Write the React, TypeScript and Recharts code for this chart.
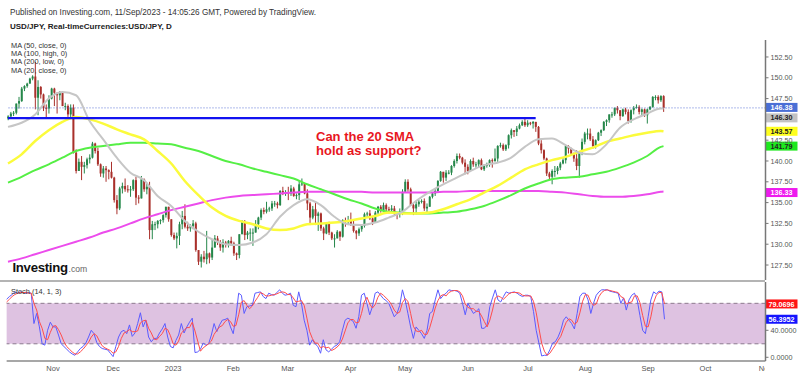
import React from 'react';
import { ComposedChart, Bar, Line, XAxis, YAxis, ReferenceLine, ReferenceArea } from 'recharts';

const FONT = '"Liberation Sans", Arial, Helvetica, sans-serif';

// ---------- Daily USD/JPY candles, 7 Oct 2022 (bar 0) .. 11 Sep 2023 (bar 241) ----------
const firstOpen = 145.1;
const closes = [
  145.35, 145.7, 145.8, 146.9, 147.2, 148.7, 149.0, 149.3, 149.9, 150.15,
  147.6, 148.9, 148.0, 146.4, 146.3, 147.5, 148.7, 148.2, 147.9, 148.3,
  146.6, 146.6, 145.6, 146.4, 141.0, 138.8, 139.9, 139.3, 139.5, 140.2,
  140.4, 142.1, 141.2, 139.6, 138.5, 139.1, 138.9, 138.7, 138.0, 135.3,
  134.3, 136.7, 137.0, 136.6, 136.5, 136.6, 137.7, 135.6, 135.5, 137.8,
  136.6, 136.9, 131.7, 132.4, 132.4, 132.8, 132.9, 133.5, 134.5, 133.0,
  131.1, 130.7, 131.0, 132.4, 133.4, 132.1, 131.9, 132.2, 132.5, 129.3,
  127.9, 128.5, 128.2, 128.9, 128.4, 129.6, 130.7, 130.2, 129.6, 130.2,
  129.9, 130.4, 130.1, 128.9, 128.7, 131.2, 132.6, 131.1, 131.4, 131.4,
  131.4, 132.4, 133.2, 134.1, 133.9, 134.2, 134.3, 134.9, 134.9, 134.7,
  136.4, 136.2, 136.2, 136.1, 136.7, 135.8, 135.9, 137.2, 137.3, 136.1,
  134.9, 133.2, 134.2, 133.4, 133.7, 131.9, 131.3, 132.5, 131.4, 130.7,
  130.7, 131.5, 130.9, 132.9, 132.7, 132.8, 132.4, 131.6, 131.3, 131.8,
  132.2, 133.6, 133.7, 133.1, 132.6, 133.8, 134.5, 134.1, 134.7, 134.2,
  134.1, 134.3, 133.7, 133.6, 133.9, 136.3, 137.5, 136.6, 134.7, 134.3,
  134.8, 135.1, 135.2, 134.3, 134.5, 135.7, 136.1, 136.4, 137.6, 138.7,
  138.0, 138.6, 138.6, 139.4, 140.0, 140.6, 140.4, 139.8, 139.3, 138.8,
  140.0, 139.6, 139.6, 140.1, 139.0, 139.4, 139.6, 140.1, 140.0, 140.3,
  141.8, 141.9, 141.4, 141.9, 143.1, 143.7, 143.5, 143.9, 144.3, 144.7,
  144.3, 144.6, 144.5, 144.7, 144.1, 142.1, 141.3, 140.3, 138.5, 138.1,
  138.8, 138.8, 139.2, 139.7, 140.1, 141.8, 141.5, 140.9, 140.3, 139.4,
  141.2, 142.3, 143.3, 143.3, 142.6, 141.8, 142.5, 143.4, 143.7, 144.7,
  144.9, 145.6, 145.6, 146.4, 146.1, 145.4, 146.2, 145.9, 144.8, 146.1,
  146.4, 146.5, 145.9, 146.2, 145.5, 146.2, 146.5, 147.7, 147.7, 147.3,
  147.8, 146.38,
];
const highs = [
  145.5, 145.9, 146.0, 146.9, 147.7, 148.9, 149.1, 149.4, 150.0, 150.3,
  151.9, 149.7, 149.0, 148.1, 146.8, 147.9, 148.8, 148.8, 148.0, 148.4,
  148.4, 147.0, 146.8, 146.8, 146.8, 141.4, 140.3, 140.6, 139.9, 140.4,
  140.8, 142.3, 142.2, 141.6, 139.7, 139.4, 139.4, 139.0, 139.9, 138.1,
  135.9, 136.9, 137.4, 137.9, 137.1, 137.0, 137.8, 138.1, 135.9, 138.2,
  137.9, 137.4, 137.5, 132.8, 132.7, 132.9, 133.0, 133.6, 134.5, 134.4,
  133.0, 131.4, 131.4, 132.7, 134.0, 134.8, 132.7, 132.4, 132.9, 132.7,
  129.2, 128.8, 129.2, 131.6, 129.0, 130.6, 131.1, 131.0, 130.5, 130.6,
  130.4, 130.5, 130.9, 130.3, 129.0, 131.2, 132.9, 132.9, 131.6, 131.9,
  131.9, 132.9, 133.3, 134.3, 134.4, 135.1, 134.5, 135.2, 135.2, 135.1,
  136.5, 136.9, 136.5, 136.9, 137.1, 136.9, 136.1, 137.6, 137.9, 137.3,
  136.6, 135.1, 134.6, 135.1, 133.9, 133.8, 132.1, 132.6, 132.7, 131.5,
  131.2, 131.7, 131.6, 133.0, 133.2, 133.4, 133.8, 132.8, 131.7, 132.0,
  132.4, 133.8, 133.9, 134.1, 133.4, 134.0, 134.6, 134.7, 135.0, 134.9,
  134.5, 134.7, 134.6, 133.8, 134.3, 136.6, 137.8, 137.8, 136.8, 134.9,
  135.2, 135.3, 135.4, 135.5, 134.9, 135.8, 136.2, 136.7, 137.7, 138.8,
  138.7, 138.9, 138.9, 139.5, 140.2, 140.9, 140.9, 140.5, 140.2, 139.6,
  140.2, 140.4, 139.9, 140.2, 140.3, 139.6, 139.8, 140.2, 140.3, 141.5,
  141.9, 142.2, 142.1, 142.0, 143.2, 143.9, 143.6, 144.2, 144.5, 144.9,
  145.1, 144.9, 144.7, 144.8, 144.7, 144.2, 142.5, 141.4, 140.4, 138.7,
  139.0, 139.4, 139.4, 139.9, 140.4, 141.9, 141.9, 141.6, 141.0, 141.3,
  141.2, 142.7, 143.5, 143.9, 143.9, 143.0, 142.6, 143.5, 143.8, 144.8,
  145.0, 145.6, 145.9, 146.4, 146.6, 146.0, 146.3, 146.4, 146.2, 146.2,
  146.6, 146.8, 146.7, 146.3, 146.3, 146.3, 146.6, 147.8, 147.9, 147.9,
  147.9, 147.9,
];
const lows = [
  144.9, 145.3, 145.4, 145.6, 146.3, 147.1, 148.4, 148.8, 149.3, 149.7,
  146.2, 145.5, 147.5, 146.0, 145.1, 145.7, 147.4, 146.6, 145.7, 147.3,
  146.6, 146.1, 145.3, 145.2, 140.9, 138.5, 138.8, 137.7, 138.5, 139.1,
  139.7, 140.3, 140.9, 139.4, 138.1, 138.0, 137.5, 137.8, 137.9, 135.0,
  133.6, 134.1, 136.1, 136.3, 136.2, 135.7, 136.4, 134.7, 134.9, 135.5,
  136.3, 136.0, 130.6, 130.6, 131.7, 131.9, 132.4, 132.6, 133.2, 132.7,
  130.9, 130.5, 129.5, 129.9, 131.8, 131.9, 131.6, 131.5, 131.8, 129.1,
  127.5, 127.2, 127.8, 127.6, 127.7, 128.1, 129.7, 129.9, 129.2, 129.0,
  129.6, 129.6, 129.8, 128.6, 128.1, 128.3, 131.2, 130.5, 130.6, 130.4,
  129.8, 131.5, 131.8, 132.9, 133.6, 133.7, 133.9, 134.0, 134.5, 134.3,
  134.6, 135.9, 135.8, 135.3, 135.8, 135.7, 135.4, 135.3, 137.0, 136.0,
  134.1, 132.3, 133.0, 132.3, 131.6, 131.6, 130.5, 131.2, 131.1, 130.5,
  129.6, 130.9, 130.4, 130.8, 132.1, 132.3, 132.2, 131.4, 130.6, 131.0,
  131.5, 132.0, 133.2, 132.9, 132.3, 132.6, 133.6, 133.8, 133.9, 133.9,
  133.7, 133.8, 133.5, 133.0, 133.2, 133.5, 136.2, 136.3, 134.6, 133.5,
  133.6, 134.5, 134.9, 134.0, 133.8, 134.5, 135.5, 135.8, 136.3, 137.5,
  137.4, 137.6, 138.4, 138.3, 139.2, 139.7, 140.2, 139.6, 138.4, 138.4,
  138.8, 139.3, 139.2, 139.2, 138.9, 138.8, 139.2, 139.3, 139.2, 139.9,
  139.9, 141.6, 141.2, 141.2, 141.5, 142.7, 142.9, 143.0, 143.8, 144.2,
  144.1, 144.1, 144.3, 143.9, 143.5, 141.9, 140.9, 140.1, 138.2, 137.7,
  137.2, 138.1, 138.4, 138.9, 139.6, 139.7, 140.9, 140.7, 139.9, 138.9,
  138.0, 140.7, 142.0, 142.6, 142.4, 141.5, 141.5, 142.4, 143.0, 143.6,
  144.2, 144.6, 145.2, 145.4, 145.7, 144.9, 145.3, 145.6, 144.5, 144.6,
  145.6, 146.3, 145.6, 145.5, 145.3, 144.5, 146.1, 146.4, 147.3, 146.9,
  147.1, 145.9,
];

// ---------- Moving averages, read every 5th bar ----------
const maBars = [
  0, 5, 10, 15, 20, 25, 30, 35, 40, 45,
  50, 55, 60, 65, 70, 75, 80, 85, 90, 95,
  100, 105, 110, 115, 120, 125, 130, 135, 140, 145,
  150, 155, 160, 165, 170, 175, 180, 185, 190, 195,
  200, 205, 210, 215, 220, 225, 230, 235, 240, 241,
];
const ma20 = [
  144.1, 144.6, 145.6, 147.5, 148.3, 147.9, 144.8, 142.6, 140.4, 138.6,
  137.7, 135.8, 134.6, 132.8, 131.5, 130.6, 130.0, 129.9, 130.2, 131.2,
  133.3, 134.7, 135.4, 134.7, 133.3, 132.4, 132.3, 132.6, 133.2, 133.9,
  135.2, 136.3, 137.2, 138.0, 138.8, 139.5, 139.8, 140.4, 141.7, 142.6,
  142.7, 141.9, 141.0, 140.8, 142.0, 144.0, 145.0, 145.7, 146.3, 146.3,
];
const ma50 = [
  139.7, 140.8, 142.4, 143.7, 144.7, 145.3, 145.0, 144.5, 143.8, 143.2,
  142.6, 141.2, 139.7, 137.6, 135.9, 134.4, 133.4, 132.8, 132.4, 131.9,
  131.7, 131.9, 132.4, 132.5, 132.6, 132.8, 133.1, 133.4, 133.8, 133.7,
  133.7, 133.8, 134.2, 134.8, 135.4, 136.2, 137.0, 138.0, 139.0, 139.6,
  140.1, 140.5, 141.1, 141.6, 142.3, 142.7, 143.1, 143.4, 143.6, 143.57,
];
const ma100 = [
  137.4, 138.1, 138.9, 139.6, 140.4, 141.2, 141.6, 141.8, 142.0, 142.2,
  142.2, 142.1, 142.0, 141.6, 141.2, 140.6, 140.0, 139.6, 139.1, 138.7,
  138.3, 137.9, 137.2, 136.6, 136.0, 135.4, 134.9, 134.3, 133.9, 133.8,
  133.7, 133.7, 133.8, 133.9, 134.2, 134.6, 135.2, 135.9, 136.7, 137.3,
  137.8, 138.0, 138.1, 138.4, 138.7, 139.2, 139.8, 140.6, 141.7, 141.79,
];
const ma200 = [
  127.9, 128.3, 128.8, 129.3, 129.8, 130.3, 130.8, 131.4, 131.9, 132.5,
  133.1, 133.6, 134.1, 134.5, 134.9, 135.3, 135.6, 135.8, 135.9, 136.0,
  136.1, 136.2, 136.3, 136.3, 136.3, 136.3, 136.3, 136.2, 136.2, 136.2,
  136.2, 136.2, 136.3, 136.3, 136.4, 136.4, 136.4, 136.4, 136.4, 136.4,
  136.3, 136.2, 136.0, 135.8, 135.7, 135.7, 135.8, 136.0, 136.3, 136.33,
];

// ---------- Stochastic (14,1,3) ----------
const stochK = [
  86, 90, 93, 97, 95, 97, 96, 95, 96, 95,
  50, 65, 45, 20, 18, 40, 52, 45, 45, 33,
  20, 16, 12, 8, 5, 3, 8, 13, 16, 21,
  30, 40, 35, 22, 16, 13, 12, 11, 6, 1,
  16, 30, 38, 40, 35, 48, 31, 36, 50, 66,
  45, 55, 30, 23, 28, 28, 36, 42, 50, 30,
  16, 14, 25, 33, 50, 36, 45, 52, 58, 7,
  8, 12, 21, 18, 20, 33, 50, 38, 48, 55,
  56, 58, 45, 35, 60, 95, 92, 65, 75, 76,
  77, 95, 96, 97, 90, 87, 95, 93, 92, 96,
  100, 95, 92, 93, 95, 77, 75, 97, 80, 55,
  40, 18, 26, 20, 16, 6, 26, 11, 8, 12,
  16, 18, 23, 40, 55, 58, 56, 53, 43, 60,
  92, 95, 80, 63, 75, 95, 97, 92, 87, 84,
  80, 70, 60, 65, 77, 100, 85, 65, 45, 28,
  45, 40, 35, 28, 40, 65, 68, 85, 100, 87,
  92, 95, 100, 99, 99, 98, 95, 80, 63, 80,
  72, 65, 68, 72, 43, 43, 48, 75, 88, 100,
  85, 82, 90, 97, 95, 96, 97, 95, 92, 90,
  92, 92, 90, 68, 40, 21, 2, 3, 3, 11,
  21, 23, 30, 40, 55, 60, 55, 50, 42, 65,
  90, 95, 95, 85, 65, 80, 92, 97, 100, 100,
  100, 98, 97, 96, 95, 80, 88, 70, 85, 92,
  95, 85, 62, 40, 35, 60, 85, 97, 94, 98,
  97, 56.3952,
];
const stochD = [
  82, 86, 90, 93, 95, 96, 96, 96, 95, 95,
  80, 70, 53, 43, 28, 26, 37, 46, 47, 41,
  33, 23, 16, 12, 8, 5, 5, 8, 12, 17,
  22, 30, 35, 32, 24, 17, 14, 12, 10, 6,
  8, 16, 28, 36, 38, 41, 38, 38, 39, 51,
  54, 55, 43, 36, 27, 26, 31, 35, 43, 41,
  32, 20, 18, 24, 36, 40, 44, 44, 52, 39,
  24, 9, 14, 17, 20, 24, 34, 40, 45, 47,
  53, 56, 53, 46, 47, 63, 82, 84, 77, 72,
  76, 83, 89, 96, 94, 91, 91, 92, 93, 94,
  96, 97, 96, 93, 93, 88, 82, 83, 84, 77,
  58, 38, 28, 21, 21, 14, 16, 14, 15, 10,
  12, 15, 19, 27, 39, 51, 56, 56, 51, 52,
  65, 82, 89, 79, 73, 78, 89, 95, 92, 88,
  84, 78, 70, 65, 67, 81, 87, 83, 65, 46,
  39, 38, 40, 34, 34, 44, 58, 73, 84, 91,
  93, 91, 96, 98, 99, 99, 97, 91, 79, 74,
  72, 72, 68, 68, 61, 53, 45, 55, 70, 88,
  91, 89, 86, 90, 94, 96, 96, 96, 95, 92,
  91, 91, 91, 83, 66, 43, 21, 9, 3, 6,
  12, 18, 25, 31, 42, 52, 57, 55, 49, 52,
  66, 83, 93, 92, 82, 77, 79, 90, 96, 99,
  100, 99, 98, 97, 96, 90, 88, 79, 81, 82,
  91, 91, 81, 62, 46, 45, 60, 81, 92, 96,
  96, 79.0696,
];

// ---------- axes ----------
const totalSlots = 279; // bars plus empty future space up to Nov 2023
const monthTicks = [17, 39, 61, 83, 103, 126, 146, 169, 191, 212, 235, 256, 278];
const monthLabels = ['Nov', 'Dec', '2023', 'Feb', 'Mar', 'Apr', 'May', 'Jun', 'Jul', 'Aug', 'Sep', 'Oct', 'Nov'];
// 145.00 and 80.0000 sit fully under the value tags in the reference
const priceTicks = [127.5, 130, 132.5, 135, 137.5, 140, 142.5, 147.5, 150, 152.5];
const priceDomain = [125.7, 154.54];
const stochTicks = [0, 40];
const stochDomain = [-5.5, 111.6];
const resistanceLevel = 145.15;
const resistanceEndBar = 194;
const lastPrice = 146.38;

const rows = Array.from({ length: totalSlots }, (_, i) => {
  const r: any = { i };
  if (i < closes.length) {
    r.o = i === 0 ? firstOpen : closes[i - 1];
    r.h = highs[i];
    r.l = lows[i];
    r.c = closes[i];
    r.k = stochK[i];
    r.d = stochD[i];
  }
  const m = maBars.indexOf(i);
  if (m >= 0) {
    r.ma20 = ma20[m];
    r.ma50 = ma50[m];
    r.ma100 = ma100[m];
    r.ma200 = ma200[m];
  }
  return r;
});

const UP = '#25874a';
const DOWN = '#a9302b';

const Candle = (props: any) => {
  const { x, y, width, height, payload } = props;
  if (!payload || payload.h == null || y == null || isNaN(y)) return <g />;
  const top = Math.min(y, y + height);
  const bot = Math.max(y, y + height);
  const span = payload.h - payload.l;
  const toY = (v: number) => (span > 0 ? top + ((payload.h - v) / span) * (bot - top) : top);
  const cx = x + width / 2;
  const up = payload.c >= payload.o;
  const color = up ? UP : DOWN;
  const yb1 = toY(Math.max(payload.o, payload.c));
  const yb2 = toY(Math.min(payload.o, payload.c));
  const wTop = Math.min(top, yb1);
  const wBot = Math.max(bot, yb2);
  return (
    <g>
      <line x1={cx} x2={cx} y1={wTop} y2={wBot} stroke={color} strokeWidth={1} />
      <rect x={cx - 1} y={yb1} width={2} height={Math.max(1, yb2 - yb1)} fill={color} />
    </g>
  );
};

const Tag = (props: any) => {
  const { viewBox, text, bg, fg, dy = 0 } = props;
  if (!viewBox) return null;
  const left = viewBox.x + viewBox.width;
  const cy = viewBox.y + dy;
  return (
    <g>
      <rect x={left} y={cy - 4.5} width={32} height={9} fill={bg} />
      <text x={left + 16} y={cy} dy="0.36em" textAnchor="middle" fontSize={7.2} fontWeight="bold" fill={fg} fontFamily={FONT}>
        {text}
      </text>
    </g>
  );
};

const MonthTick = (props: any) => {
  const { x, y, payload } = props;
  const idx = monthTicks.indexOf(payload.value);
  const label = idx >= 0 ? monthLabels[idx] : '';
  const id = 'mclip' + payload.value;
  return (
    <g>
      <defs>
        <clipPath id={id}>
          <rect x={0} y={300} width={765} height={76} />
        </clipPath>
      </defs>
      <text x={x} y={y} dy={9.5} textAnchor="middle" fontSize={7.5} fill="#555" fontFamily={FONT} clipPath={'url(#' + id + ')'}>
        {label}
      </text>
    </g>
  );
};

const axisTick = { fontSize: 7.2, fill: '#555', fontFamily: FONT };

export default function App() {
  return (
    <div style={{ position: 'absolute', left: 0, top: 0, width: 800, height: 376, background: '#fff', overflow: 'hidden' }}>
      {/* price panel */}
      <div style={{ position: 'absolute', left: 0, top: 0 }}>
        <ComposedChart width={800} height={290} data={rows} margin={{ top: 40, right: 0, bottom: 10, left: 6.64 }} barCategoryGap={0}>
          <XAxis dataKey="i" type="category" hide />
          <YAxis
            orientation="right"
            width={34.5}
            domain={priceDomain}
            allowDataOverflow
            ticks={priceTicks}
            interval={0}
            tickFormatter={(v: number) => v.toFixed(2)}
            tick={axisTick}
            tickSize={3}
            axisLine={{ stroke: '#777', strokeWidth: 1.5 }}
            tickLine={{ stroke: '#777' }}
          />
          <ReferenceLine y={lastPrice} stroke="#5d74d6" strokeWidth={1} strokeDasharray="1 2" />
          <Line dataKey="ma200" type="monotone" stroke="#ec4cec" strokeWidth={2} dot={false} activeDot={false} connectNulls isAnimationActive={false} />
          <Line dataKey="ma100" type="monotone" stroke="#55ef45" strokeWidth={2} dot={false} activeDot={false} connectNulls isAnimationActive={false} />
          <Line dataKey="ma50" type="monotone" stroke="#fbfb3c" strokeWidth={2.5} dot={false} activeDot={false} connectNulls isAnimationActive={false} />
          <Line dataKey="ma20" type="monotone" stroke="#c6c6c6" strokeWidth={2} dot={false} activeDot={false} connectNulls isAnimationActive={false} />
          <ReferenceLine
            segment={[{ x: 0, y: resistanceLevel }, { x: resistanceEndBar, y: resistanceLevel }]}
            stroke="#1212f0"
            strokeWidth={2.2}
          />
          <Bar
            dataKey={(d: any) => (d.h == null ? null : [d.l, d.h])}
            shape={(p: any) => <Candle {...p} />}
            isAnimationActive={false}
          />
          <ReferenceLine y={146.3} stroke="none" label={<Tag text="146.30" bg="#c3c3c3" fg="#222" dy={9.3} />} />
          <ReferenceLine y={lastPrice} stroke="none" label={<Tag text="146.38" bg="#4a6fd6" fg="#fff" dy={-0.5} />} />
          <ReferenceLine y={143.57} stroke="none" label={<Tag text="143.57" bg="#ffff1e" fg="#222" />} />
          <ReferenceLine y={141.79} stroke="none" label={<Tag text="141.79" bg="#1ee81e" fg="#222" />} />
          <ReferenceLine y={136.33} stroke="none" label={<Tag text="136.33" bg="#ee1aee" fg="#fff" dy={1} />} />
        </ComposedChart>
      </div>

      {/* panel separator */}
      <div style={{ position: 'absolute', left: 0, top: 280, width: 765, height: 2, background: '#b4b4b4' }} />

      {/* stochastic panel */}
      <div style={{ position: 'absolute', left: 0, top: 0 }}>
        <ComposedChart width={800} height={376} data={rows} margin={{ top: 282, right: 0, bottom: 0, left: 6.64 }}>
          <XAxis
            dataKey="i"
            type="category"
            height={15}
            ticks={monthTicks}
            interval={0}
            tick={<MonthTick />}
            tickLine={false}
            tickSize={0}
            tickMargin={0}
            axisLine={{ stroke: '#8a8a8a', strokeWidth: 1.5 }}
          />
          <YAxis
            orientation="right"
            width={34.5}
            domain={stochDomain}
            allowDataOverflow
            ticks={stochTicks}
            interval={0}
            tickFormatter={(v: number) => v.toFixed(4)}
            tick={axisTick}
            tickSize={3}
            axisLine={{ stroke: '#777', strokeWidth: 1.5 }}
            tickLine={{ stroke: '#777' }}
          />
          <ReferenceArea y1={20} y2={80} fill="#dec2e1" fillOpacity={1} stroke="none" />
          <ReferenceLine y={80} stroke="#8c7a8e" strokeDasharray="4 3" />
          <ReferenceLine y={20} stroke="#8c7a8e" strokeDasharray="4 3" />
          <Line dataKey="k" type="linear" stroke="#5b5bff" strokeWidth={1} dot={false} activeDot={false} isAnimationActive={false} />
          <Line dataKey="d" type="linear" stroke="#ff4c4c" strokeWidth={1} dot={false} activeDot={false} isAnimationActive={false} />
          <ReferenceLine y={79.0696} stroke="none" label={<Tag text="79.0696" bg="#ff1414" fg="#fff" />} />
          <ReferenceLine y={56.3952} stroke="none" label={<Tag text="56.3952" bg="#1414ff" fg="#fff" />} />
        </ComposedChart>
      </div>

      {/* text overlay */}
      <svg width={800} height={376} style={{ position: 'absolute', left: 0, top: 0, pointerEvents: 'none' }} fontFamily={FONT}>
        <text x={10} y={15} fontSize={8.2} fill="#333">
          Published on Investing.com, 11/Sep/2023 - 14:05:26 GMT, Powered by TradingView.
        </text>
        <text x={10} y={29} fontSize={8} fontWeight="bold" fill="#222">
          USD/JPY, Real-timeCurrencies:USD/JPY, D
        </text>
        <text x={11} y={47.7} fontSize={7.4} fill="#333">MA (50, close, 0)</text>
        <text x={11} y={56} fontSize={7.4} fill="#333">MA (100, high, 0)</text>
        <text x={11} y={64.3} fontSize={7.4} fill="#333">MA (200, low, 0)</text>
        <text x={11} y={72.6} fontSize={7.4} fill="#333">MA (20, close, 0)</text>
        <text x={316} y={140.7} fontSize={13} fontWeight="bold" fill="#e8161e">Can the 20 SMA</text>
        <text x={316} y={154.6} fontSize={13} fontWeight="bold" fill="#e8161e">hold as support?</text>
        <text x={12.5} y={271.7} fontSize={13.2} fontWeight="bold" fill="#111" letterSpacing={-0.3}>Investing</text>
        <text x={68.5} y={271.7} fontSize={8.6} fill="#666">.com</text>
        <text x={11} y={294} fontSize={7.4} fill="#333">Stoch (14, 1, 3)</text>
      </svg>
    </div>
  );
}
